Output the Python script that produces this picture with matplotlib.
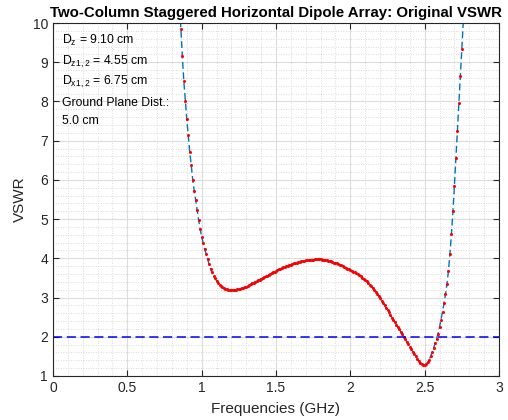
import numpy as np
import matplotlib
matplotlib.use('Agg')
import matplotlib.pyplot as plt
from matplotlib.ticker import MultipleLocator

plt.rcParams['font.family'] = ['Liberation Sans', 'DejaVu Sans']
plt.rcParams['mathtext.fontset'] = 'custom'
plt.rcParams['mathtext.rm'] = 'Liberation Sans'

# Frecuencias (GHz) y VSWR
freqs = np.round(np.arange(0.85, 2.765, 0.01), 2)
vswr = [
    10.6, 9.85, 9.15, 8.52, 8.02, 7.55, 7.14, 6.70, 6.38, 6.00,        # 0.85-0.94
    5.72, 5.48, 5.22, 4.97, 4.75, 4.55, 4.39, 4.24, 4.11, 3.98,        # 0.95-1.04
    3.85, 3.74, 3.64, 3.56, 3.49, 3.43, 3.37, 3.33, 3.29, 3.26,        # 1.05-1.14
    3.24, 3.22, 3.21, 3.20, 3.19, 3.19, 3.19, 3.19, 3.20, 3.21,        # 1.15-1.24
    3.22, 3.23, 3.24, 3.25, 3.27, 3.28, 3.30, 3.32, 3.34, 3.36,        # 1.25-1.34
    3.38, 3.40, 3.42, 3.44, 3.46, 3.48, 3.50, 3.52, 3.54, 3.56,        # 1.35-1.44
    3.58, 3.60, 3.62, 3.64, 3.66, 3.68, 3.70, 3.72, 3.73, 3.75,        # 1.45-1.54
    3.77, 3.78, 3.80, 3.81, 3.83, 3.84, 3.85, 3.87, 3.88, 3.89,        # 1.55-1.64
    3.90, 3.91, 3.92, 3.93, 3.94, 3.95, 3.95, 3.96, 3.96, 3.97,        # 1.65-1.74
    3.97, 3.98, 3.98, 3.98, 3.98, 3.98, 3.97, 3.97, 3.96, 3.95,        # 1.75-1.84
    3.94, 3.93, 3.92, 3.91, 3.89, 3.88, 3.87, 3.85, 3.84, 3.82,        # 1.85-1.94
    3.80, 3.78, 3.76, 3.74, 3.72, 3.70, 3.68, 3.66, 3.64, 3.62,        # 1.95-2.04
    3.60, 3.57, 3.54, 3.51, 3.48, 3.44, 3.41, 3.37, 3.33, 3.29,        # 2.05-2.14
    3.25, 3.20, 3.15, 3.10, 3.04, 2.98, 2.92, 2.86, 2.80, 2.74,        # 2.15-2.24
    2.68, 2.62, 2.55, 2.49, 2.43, 2.37, 2.31, 2.25, 2.19, 2.12,        # 2.25-2.34
    2.06, 2.00, 1.94, 1.87, 1.81, 1.75, 1.68, 1.62, 1.56, 1.50,        # 2.35-2.44
    1.44, 1.38, 1.34, 1.30, 1.28, 1.28, 1.31, 1.35, 1.42, 1.50,        # 2.45-2.54
    1.60, 1.71, 1.83, 1.95, 2.08, 2.25, 2.44, 2.64, 2.85, 3.08,        # 2.55-2.64
    3.35, 3.68, 4.12, 4.62, 5.20, 5.85, 6.55, 7.25, 7.95, 8.65,        # 2.65-2.74
    9.35, 10.05,                                                       # 2.75-2.76
]
freqs = freqs[:len(vswr)]

limite_vswr = 2
xticks = [0, 0.5, 1, 1.5, 2, 2.5, 3]
xtick_labels = ['0', '0.5', '1', '1.5', '2', '2.5', '3']
yticks = list(range(1, 11))

anotaciones = [r'D$_\mathregular{z}$ = 9.10 cm',
               r'D$_\mathregular{z1,2}$ = 4.55 cm',
               r'D$_\mathregular{x1,2}$ = 6.75 cm',
               'Ground Plane Dist.:',
               '5.0 cm']
anot_y = [9.47, 8.93, 8.42, 7.88, 7.43]

fig = plt.figure(figsize=(5.08, 4.2), dpi=100)
ax = fig.add_axes([0.1043, 0.1048, 0.8780, 0.8404])

gris = '#262626'
ax.plot(freqs, vswr, '--', color=(0, 0.447, 0.741), lw=1.0, dashes=(5, 2.5))
ax.plot(freqs, vswr, 'o', color='red', markersize=2.2, markeredgewidth=0)
ax.axhline(limite_vswr, color='b', ls='--', lw=1.1, dashes=(6, 3))

ax.set_xlim(0, 3)
ax.set_ylim(1, 10)
ax.set_xticks(xticks)
ax.set_xticklabels(xtick_labels)
ax.set_yticks(yticks)
ax.xaxis.set_minor_locator(MultipleLocator(0.1))
ax.yaxis.set_minor_locator(MultipleLocator(0.2))
ax.grid(True, which='major', color='#dcdcdc', lw=0.8)
ax.grid(True, which='minor', color='#cfcfcf', lw=0.6, ls=(0, (1, 2)))
ax.set_axisbelow(True)
ax.tick_params(which='major', direction='in', length=4, top=True, right=True,
               labelsize=10, colors=gris, width=0.8)
ax.tick_params(which='minor', length=0)
for s in ax.spines.values():
    s.set_color(gris)
    s.set_linewidth(0.8)

ax.set_xlabel('Frequencies (GHz)', fontsize=11, color=gris, labelpad=5)
ax.set_ylabel('VSWR', fontsize=11, color=gris, labelpad=4)
ax.set_title('Two-Column Staggered Horizontal Dipole Array: Original VSWR',
             fontsize=10.8, fontweight='bold', pad=4)

for txt, yy in zip(anotaciones, anot_y):
    ax.text(0.06, yy, txt, fontsize=8.8, va='baseline', ha='left', color='k')

fig.savefig('out.png', dpi=100)
